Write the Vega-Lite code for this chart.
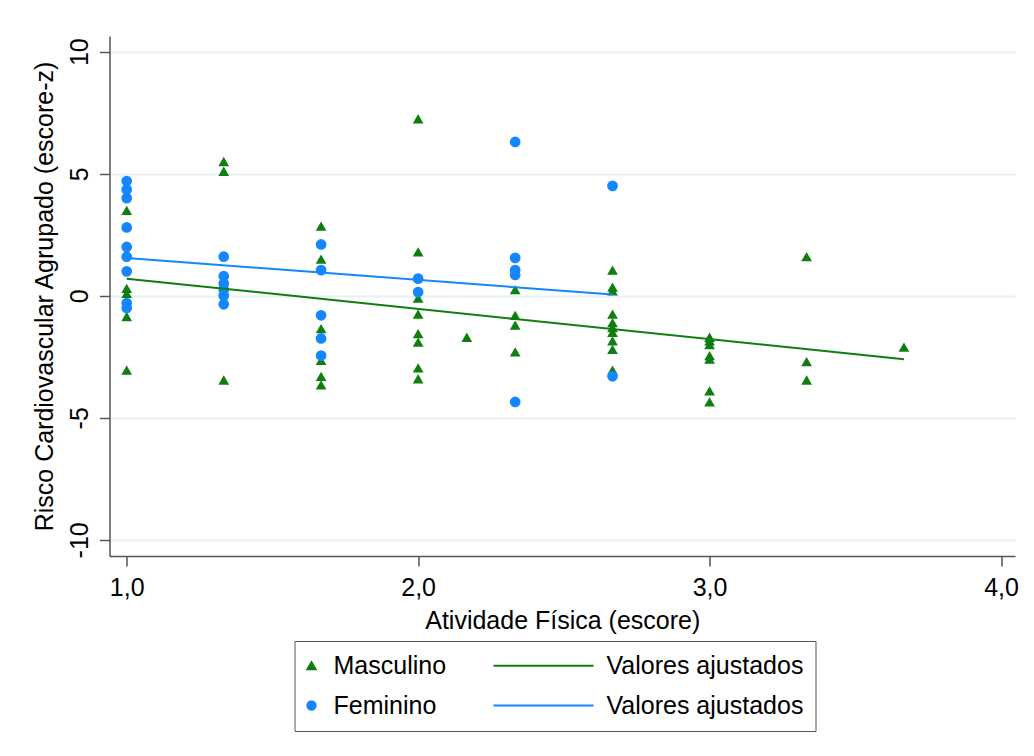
{
  "$schema": "https://vega.github.io/schema/vega-lite/v6.json",
  "autosize": {"type": "none"},
  "padding": {"left": 109.5, "top": 36, "right": 19, "bottom": 200},
  "width": 905.5,
  "height": 520,
  "background": "white",
  "config": {
    "view": {"stroke": null},
    "font": "Liberation Sans",
    "axis": {
      "labelFont": "Liberation Sans",
      "titleFont": "Liberation Sans",
      "labelFontSize": 25,
      "titleFontSize": 25,
      "titleFontWeight": "normal",
      "labelColor": "black",
      "titleColor": "black",
      "domainColor": "#555555",
      "tickColor": "#555555",
      "domainWidth": 1.5,
      "tickWidth": 1.5,
      "tickSize": 10
    }
  },
  "datasets": {
    "pontos": [
      {"atividade": 1, "risco": 3.5, "grupo": "M"},
      {"atividade": 1, "risco": 0.3, "grupo": "M"},
      {"atividade": 1, "risco": 0.1, "grupo": "M"},
      {"atividade": 1, "risco": -0.85, "grupo": "M"},
      {"atividade": 1, "risco": -3.05, "grupo": "M"},
      {"atividade": 1.333, "risco": 5.5, "grupo": "M"},
      {"atividade": 1.333, "risco": 5.1, "grupo": "M"},
      {"atividade": 1.333, "risco": 0.2, "grupo": "M"},
      {"atividade": 1.333, "risco": -3.45, "grupo": "M"},
      {"atividade": 1.667, "risco": 2.85, "grupo": "M"},
      {"atividade": 1.667, "risco": 1.5, "grupo": "M"},
      {"atividade": 1.667, "risco": -1.35, "grupo": "M"},
      {"atividade": 1.667, "risco": -2.65, "grupo": "M"},
      {"atividade": 1.667, "risco": -3.3, "grupo": "M"},
      {"atividade": 1.667, "risco": -3.65, "grupo": "M"},
      {"atividade": 2, "risco": 7.25, "grupo": "M"},
      {"atividade": 2, "risco": 1.8, "grupo": "M"},
      {"atividade": 2, "risco": -0.1, "grupo": "M"},
      {"atividade": 2, "risco": -0.75, "grupo": "M"},
      {"atividade": 2, "risco": -1.55, "grupo": "M"},
      {"atividade": 2, "risco": -1.9, "grupo": "M"},
      {"atividade": 2, "risco": -2.95, "grupo": "M"},
      {"atividade": 2, "risco": -3.4, "grupo": "M"},
      {"atividade": 2.167, "risco": -1.7, "grupo": "M"},
      {"atividade": 2.333, "risco": 0.25, "grupo": "M"},
      {"atividade": 2.333, "risco": -0.8, "grupo": "M"},
      {"atividade": 2.333, "risco": -1.2, "grupo": "M"},
      {"atividade": 2.333, "risco": -2.3, "grupo": "M"},
      {"atividade": 2.667, "risco": 1.05, "grupo": "M"},
      {"atividade": 2.667, "risco": 0.35, "grupo": "M"},
      {"atividade": 2.667, "risco": 0.2, "grupo": "M"},
      {"atividade": 2.667, "risco": -0.75, "grupo": "M"},
      {"atividade": 2.667, "risco": -1.1, "grupo": "M"},
      {"atividade": 2.667, "risco": -1.3, "grupo": "M"},
      {"atividade": 2.667, "risco": -1.5, "grupo": "M"},
      {"atividade": 2.667, "risco": -1.85, "grupo": "M"},
      {"atividade": 2.667, "risco": -2.2, "grupo": "M"},
      {"atividade": 2.667, "risco": -3.05, "grupo": "M"},
      {"atividade": 3, "risco": -1.7, "grupo": "M"},
      {"atividade": 3, "risco": -1.85, "grupo": "M"},
      {"atividade": 3, "risco": -2.0, "grupo": "M"},
      {"atividade": 3, "risco": -2.45, "grupo": "M"},
      {"atividade": 3, "risco": -2.6, "grupo": "M"},
      {"atividade": 3, "risco": -3.9, "grupo": "M"},
      {"atividade": 3, "risco": -4.35, "grupo": "M"},
      {"atividade": 3.333, "risco": 1.6, "grupo": "M"},
      {"atividade": 3.333, "risco": -2.7, "grupo": "M"},
      {"atividade": 3.333, "risco": -3.45, "grupo": "M"},
      {"atividade": 3.667, "risco": -2.1, "grupo": "M"},
      {"atividade": 1, "risco": 4.7, "grupo": "F"},
      {"atividade": 1, "risco": 4.35, "grupo": "F"},
      {"atividade": 1, "risco": 4.0, "grupo": "F"},
      {"atividade": 1, "risco": 2.8, "grupo": "F"},
      {"atividade": 1, "risco": 2.0, "grupo": "F"},
      {"atividade": 1, "risco": 1.6, "grupo": "F"},
      {"atividade": 1, "risco": 1.0, "grupo": "F"},
      {"atividade": 1, "risco": -0.3, "grupo": "F"},
      {"atividade": 1, "risco": -0.5, "grupo": "F"},
      {"atividade": 1.333, "risco": 1.6, "grupo": "F"},
      {"atividade": 1.333, "risco": 0.8, "grupo": "F"},
      {"atividade": 1.333, "risco": 0.5, "grupo": "F"},
      {"atividade": 1.333, "risco": 0.25, "grupo": "F"},
      {"atividade": 1.333, "risco": 0.0, "grupo": "F"},
      {"atividade": 1.333, "risco": -0.35, "grupo": "F"},
      {"atividade": 1.667, "risco": 2.1, "grupo": "F"},
      {"atividade": 1.667, "risco": 1.05, "grupo": "F"},
      {"atividade": 1.667, "risco": -0.8, "grupo": "F"},
      {"atividade": 1.667, "risco": -1.75, "grupo": "F"},
      {"atividade": 1.667, "risco": -2.45, "grupo": "F"},
      {"atividade": 2, "risco": 0.7, "grupo": "F"},
      {"atividade": 2, "risco": 0.15, "grupo": "F"},
      {"atividade": 2.333, "risco": 6.3, "grupo": "F"},
      {"atividade": 2.333, "risco": 1.55, "grupo": "F"},
      {"atividade": 2.333, "risco": 1.05, "grupo": "F"},
      {"atividade": 2.333, "risco": 0.85, "grupo": "F"},
      {"atividade": 2.333, "risco": -4.35, "grupo": "F"},
      {"atividade": 2.667, "risco": 4.5, "grupo": "F"},
      {"atividade": 2.667, "risco": -3.3, "grupo": "F"}
    ],
    "ajuste": [
      {"atividade": 1, "risco": 0.7, "grupo": "Mfit"},
      {"atividade": 3.667, "risco": -2.6, "grupo": "Mfit"},
      {"atividade": 1, "risco": 1.55, "grupo": "Ffit"},
      {"atividade": 2.667, "risco": 0.05, "grupo": "Ffit"}
    ]
  },
  "encoding": {
    "x": {
      "field": "atividade",
      "type": "quantitative",
      "scale": {"domain": [0.941, 4.048], "nice": false, "zero": false},
      "axis": {
        "title": "Atividade Física (escore)",
        "values": [1, 2, 3, 4],
        "labelExpr": "replace(format(datum.value, '.1f'), '.', ',')",
        "grid": false,
        "labelPadding": 9,
        "titlePadding": 8,
        "labelFlush": false
      }
    },
    "y": {
      "field": "risco",
      "type": "quantitative",
      "scale": {"domain": [-10.66, 10.64], "nice": false, "zero": false},
      "axis": {
        "title": "Risco Cardiovascular Agrupado (escore-z)",
        "values": [-10, -5, 0, 5, 10],
        "labelExpr": "'' + datum.value",
        "labelAngle": -90,
        "labelAlign": "center",
        "labelBaseline": "alphabetic",
        "labelPadding": 12.5,
        "titlePadding": 10,
        "labelFlush": false,
        "labelOverlap": false,
        "grid": true,
        "gridColor": "#e9f0f2",
        "gridWidth": 2
      }
    },
    "color": {
      "field": "grupo",
      "type": "nominal",
      "scale": {
        "domain": ["M", "F", "Mfit", "Ffit"],
        "range": ["#0E7E10", "#1487FF", "#0E7E10", "#1487FF"]
      },
      "legend": {
        "orient": "none",
        "legendX": 185,
        "legendY": 605,
        "columns": 2,
        "columnPadding": 43,
        "rowPadding": 14,
        "padding": 12,
        "strokeColor": "#555555",
        "fillColor": "white",
        "title": null,
        "labelFont": "Liberation Sans",
        "labelFontSize": 25,
        "labelColor": "black",
        "labelLimit": 400,
        "symbolSize": 70,
        "labelExpr": "datum.value == 'M' ? 'Masculino' : datum.value == 'F' ? 'Feminino' : 'Valores ajustados\u00a0\u00a0'",
        "encode": {
          "symbols": {
            "update": {
              "size": {"signal": "indexof(['Mfit','Ffit'], datum.value) >= 0 ? 10000 : 70"},
              "x": {"signal": "indexof(['Mfit','Ffit'], datum.value) >= 0 ? 50 : 5"},
              "strokeWidth": {"value": 2},
              "stroke": {"scale": "color", "field": "value"}
            }
          },
          "labels": {
            "update": {
              "x": {"signal": "indexof(['Mfit','Ffit'], datum.value) >= 0 ? 113 : 27"}
            }
          }
        }
      }
    }
  },
  "layer": [
    {
      "data": {"name": "pontos"},
      "mark": {"type": "point", "filled": true, "opacity": 1, "size": 115},
      "encoding": {
        "shape": {
          "field": "grupo",
          "type": "nominal",
          "scale": {
            "domain": ["M", "F", "Mfit", "Ffit"],
            "range": ["triangle-up", "circle", "stroke", "stroke"]
          },
          "legend": {
            "orient": "none",
            "legendX": 185,
            "legendY": 605,
            "columns": 2,
            "columnPadding": 43,
            "rowPadding": 14,
            "padding": 12,
            "strokeColor": "#555555",
            "fillColor": "white",
            "title": null,
            "labelFont": "Liberation Sans",
            "labelFontSize": 25,
            "labelColor": "black",
            "labelLimit": 400,
            "symbolSize": 70,
            "labelExpr": "datum.value == 'M' ? 'Masculino' : datum.value == 'F' ? 'Feminino' : 'Valores ajustados\u00a0\u00a0'",
            "encode": {
              "symbols": {
                "update": {
                  "size": {"signal": "indexof(['Mfit','Ffit'], datum.value) >= 0 ? 10000 : 70"},
                  "x": {"signal": "indexof(['Mfit','Ffit'], datum.value) >= 0 ? 50 : 5"},
                  "strokeWidth": {"value": 2},
                  "stroke": {"scale": "color", "field": "value"}
                }
              },
              "labels": {
                "update": {
                  "x": {"signal": "indexof(['Mfit','Ffit'], datum.value) >= 0 ? 113 : 27"}
                }
              }
            }
          }
        }
      }
    },
    {
      "data": {"name": "ajuste"},
      "mark": {"type": "line", "strokeWidth": 2},
      "encoding": {
        "detail": {"field": "grupo", "type": "nominal"}
      }
    }
  ]
}
